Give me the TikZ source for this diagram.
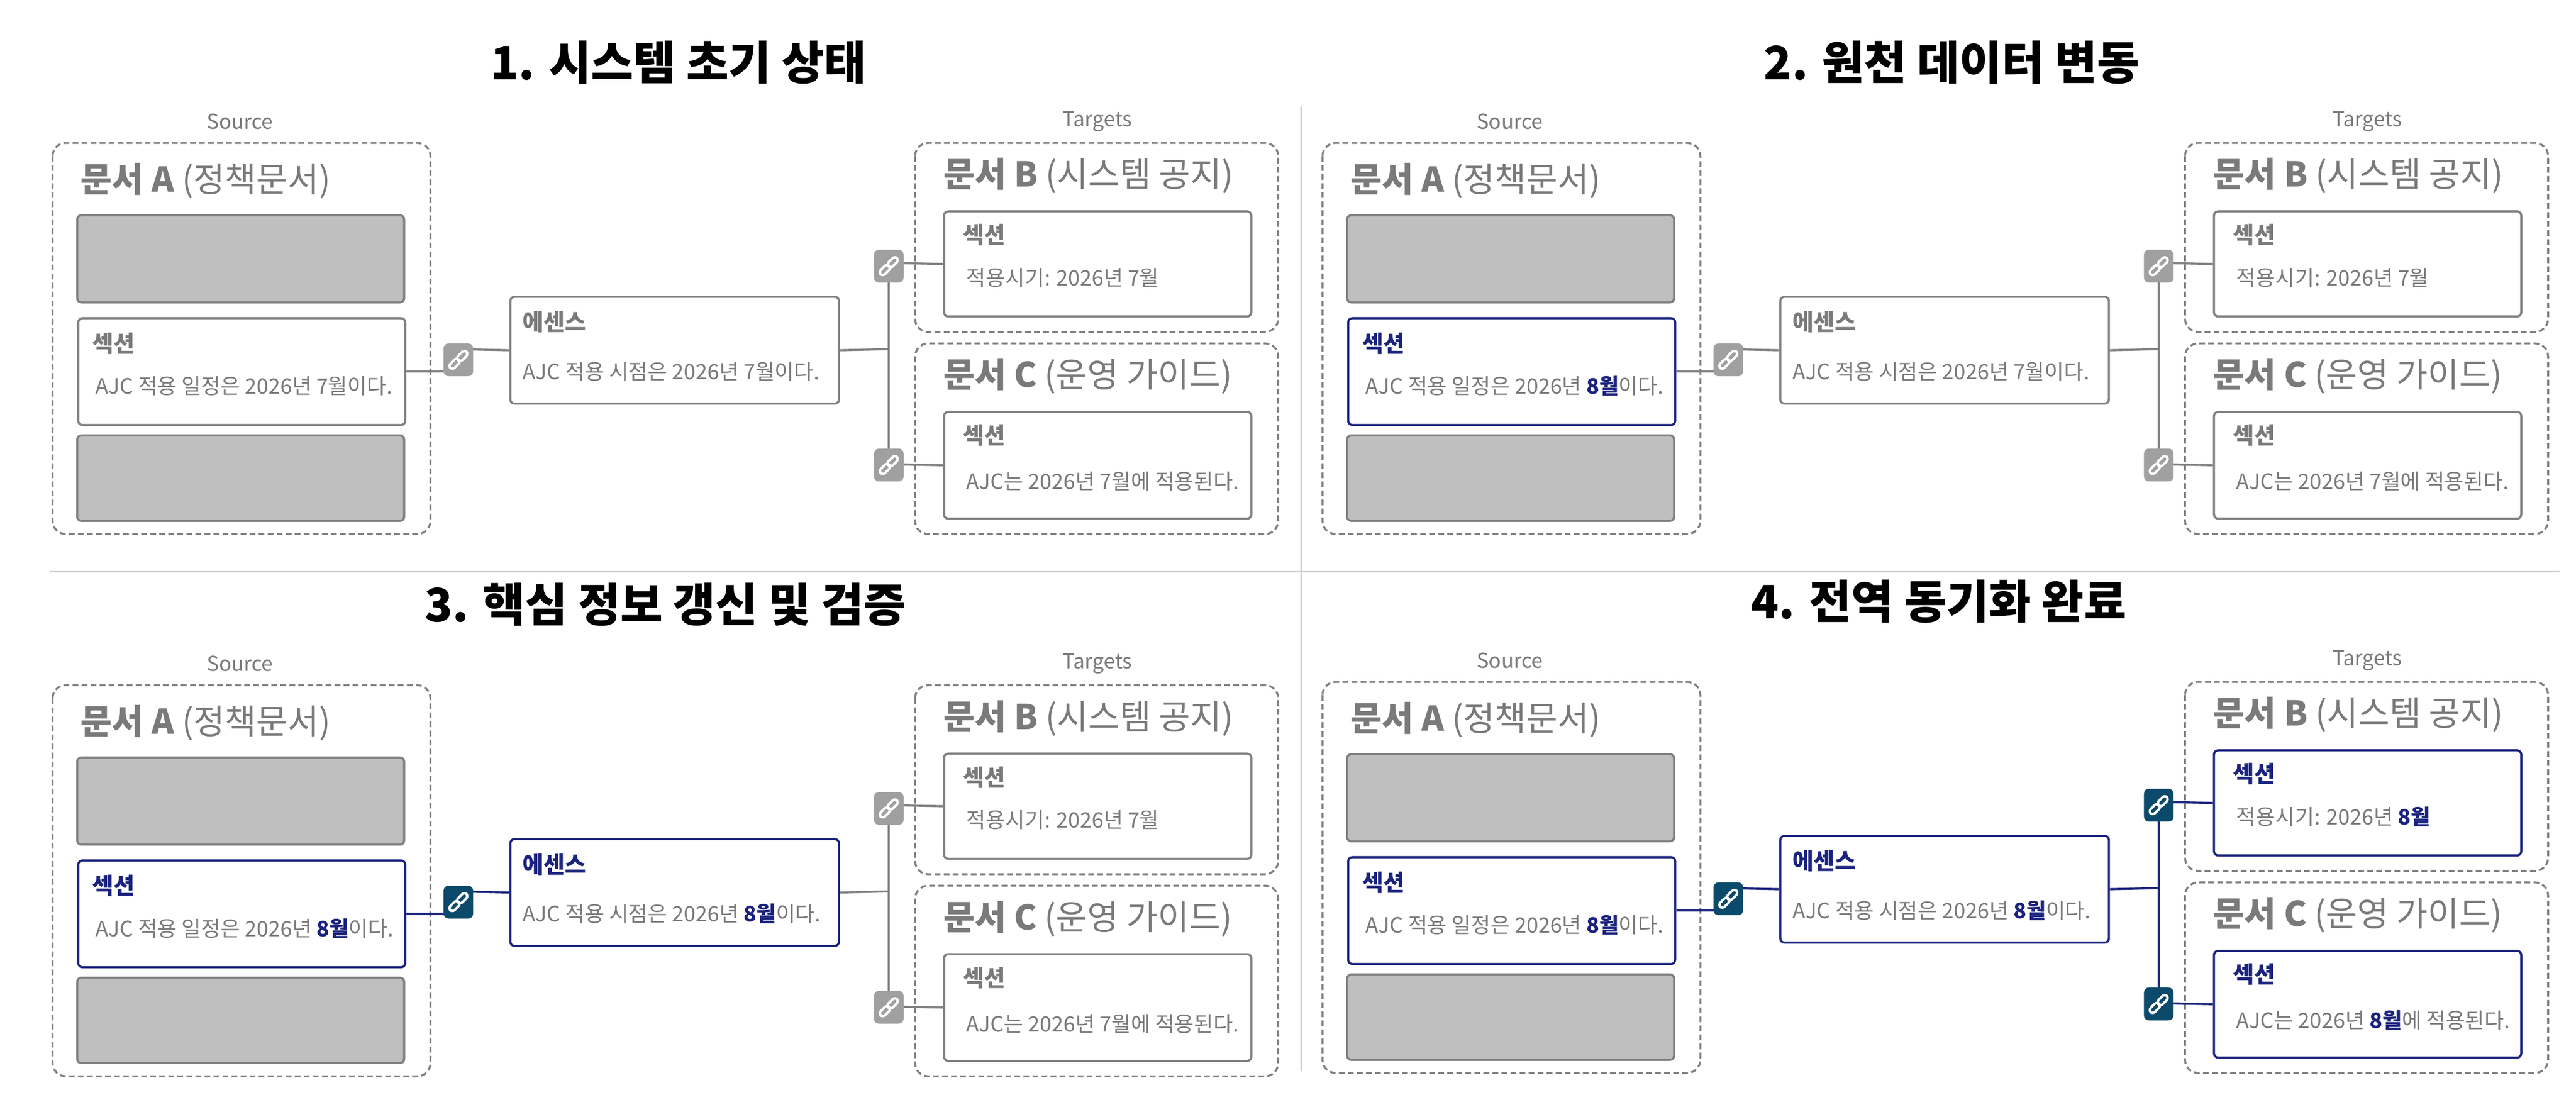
\documentclass[tikz,border=0pt]{standalone}
\usepackage{fontspec}
\setmainfont{Noto Sans CJK KR}
\definecolor{nmline}{HTML}{808080}
\definecolor{hlline}{HTML}{1A237E}
\definecolor{nmicon}{HTML}{A0A0A0}
\definecolor{hlicon}{HTML}{0B4A6B}
\definecolor{nmhead}{HTML}{7A7A7A}
\definecolor{hlhead}{HTML}{1A237E}
\definecolor{txt}{HTML}{7A7A7A}
\definecolor{sep}{HTML}{D0D0D0}
\newcommand\mnm{7월}
\newcommand\mhl{\textbf{\color{hlhead}8월}}
\tikzset{
  dbox/.style={draw=nmline,dashed,dash pattern=on 3.5pt off 2pt,line width=1.2pt,rounded corners=8pt},
  gbox/.style={draw=nmline,fill=black!25,line width=1.3pt,rounded corners=2.5pt},
  sbox/.style={draw=#1line,fill=white,line width=1.3pt,rounded corners=2.5pt},
  lbl/.style={text=txt,font=\fontsize{12.5}{13}\selectfont},
  hd/.style={anchor=west,text=txt,font=\fontsize{20.8}{21}\selectfont,inner sep=0},
  sh/.style={anchor=west,text=#1head,font=\fontsize{14}{15}\selectfont\bfseries,inner sep=0},
  bd/.style={anchor=west,text=txt,font=\fontsize{12.9}{13}\selectfont,inner sep=0},
  ttl/.style={font=\fontsize{28}{30}\selectfont\bfseries},
  con/.style={draw=#1line,line width=1.3pt},
  ico/.style={fill=#1icon,rounded corners=3pt,minimum width=18pt,minimum height=20pt,inner sep=0}
}
\newcommand\linkico[3]{% name, pos, state
  \node[ico=#3] (#1) at (#2) {};
  \begin{scope}[shift={(#1.center)},rotate=-45]
    \draw[white,line width=1.5pt,rounded corners=2pt] (-1.8,-7) rectangle (1.8,0.3);
    \draw[white,line width=1.5pt,rounded corners=2pt] (-1.8,-0.3) rectangle (1.8,7);
  \end{scope}}
% #1 id #2 xoff #3 yoff #4 title #5 title x #6 src #7 mid #8 tgt
\newcommand\panel[8]{%
\begin{scope}[shift={(#2,#3)}]
  \node[ttl] (#1t) at (#5,38) {#4};
  \node[lbl] (#1sl) at (146,74) {Source};
  \node[lbl] (#1tl) at (668,74) {Targets};
  \draw[dbox] (32,87) rectangle (262,325);
  \node[hd] (#1ha) at (49,110) {\textbf{문서 A} (정책문서)};
  \draw[gbox] (47,131) rectangle (246,184);
  \draw[gbox] (47,265) rectangle (246,317);
  \node[sbox=#6,minimum width=199pt,minimum height=65pt,anchor=north west] (#1s) at (47,193) {};
  \node[sh=#6] (#1sh) at (56,209) {섹션};
  \node[bd] (#1sb) at (58,235) {AJC 적용 일정은 2026년 \csname m#6\endcsname 이다.};
  \node[sbox=#7,minimum width=200pt,minimum height=65pt,anchor=north west] (#1e) at (310,180) {};
  \node[sh=#7] (#1eh) at (318,196) {에센스};
  \node[bd] (#1eb) at (318,226) {AJC 적용 시점은 2026년 \csname m#7\endcsname 이다.};
  \draw[dbox] (557,87) rectangle (778,202);
  \draw[dbox] (557,209) rectangle (778,325);
  \node[hd] (#1hb) at (574,107) {\textbf{문서 B} (시스템 공지)};
  \node[hd] (#1hc) at (574,229) {\textbf{문서 C} (운영 가이드)};
  \node[sbox=#8,minimum width=187pt,minimum height=64pt,anchor=north west] (#1b) at (574,128) {};
  \node[sh=#8] (#1bh) at (586,143) {섹션};
  \node[bd] (#1bb) at (588,169) {적용시기: 2026년 \csname m#8\endcsname};
  \node[sbox=#8,minimum width=187pt,minimum height=65pt,anchor=north west] (#1c) at (574,250) {};
  \node[sh=#8] (#1ch) at (586,265) {섹션};
  \node[bd] (#1cb) at (588,293) {AJC는 2026년 \csname m#8\endcsname 에 적용된다.};
  % connectors
  \coordinate (#1j) at (541,212.5);
  \draw[con=#7] (#1s.east) -- ++(33,0);
  \draw[con=#7] (279,212.5) -- (#1e.west);
  \draw[con=#8] (#1e.east) -- (#1j);
  \draw[con=#8] (541,160) -- (541,282.5);
  \draw[con=#8] (541,160) -- (#1b.west);
  \draw[con=#8] (541,282.5) -- (#1c.west);
  \linkico{#1l1}{279,219}{#7}
  \linkico{#1l2}{541,162}{#8}
  \linkico{#1l3}{541,283}{#8}
\end{scope}}
\begin{document}
\begin{tikzpicture}[x=1pt,y=-1pt]
  \useasboundingbox (0,0) rectangle (1568,676.6);
  \draw[sep,line width=1pt] (792,65) -- (792,652);
  \draw[sep,line width=1pt] (30,348) -- (1558,348);
  \panel{p1}{0}{0}{1. 시스템 초기 상태}{413}{nm}{nm}{nm}
  \panel{p2}{773}{0}{2. 원천 데이터 변동}{415}{hl}{nm}{nm}
  \panel{p3}{0}{330}{3. 핵심 정보 갱신 및 검증}{405}{hl}{hl}{nm}
  \panel{p4}{773}{328}{4. 전역 동기화 완료}{407}{hl}{hl}{hl}
\end{tikzpicture}
\end{document}
